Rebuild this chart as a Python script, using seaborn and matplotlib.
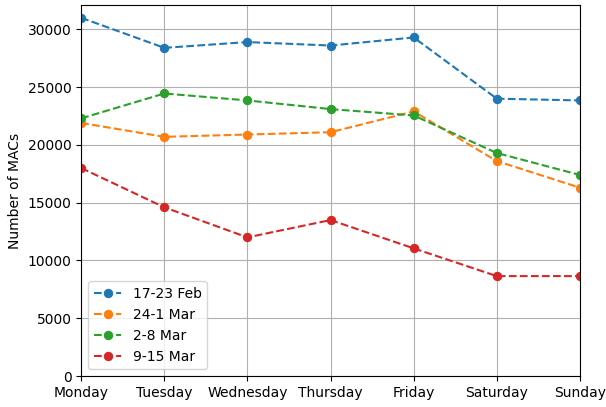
import pandas as pd
import matplotlib
matplotlib.use('Agg')
import matplotlib.pyplot as plt
import seaborn as sns

days = ['Monday', 'Tuesday', 'Wednesday', 'Thursday', 'Friday', 'Saturday', 'Sunday']
weeks = ['17-23 Feb', '24-1 Mar', '2-8 Mar', '9-15 Mar']
feb_17_23 = [31000, 28400, 28900, 28600, 29300, 24000, 23850]
feb_24_mar_1 = [21900, 20700, 20900, 21100, 22900, 18600, 16300]
mar_2_8 = [22300, 24450, 23850, 23100, 22550, 19300, 17400]
mar_9_15 = [18000, 14600, 12000, 13500, 11050, 8650, 8650]

series = [feb_17_23, feb_24_mar_1, mar_2_8, mar_9_15]
colors = sns.color_palette('tab10', 4)

fig, ax = plt.subplots(figsize=(6.06, 4.07), dpi=100)
for week, vals, c in zip(weeks, series, colors):
    df = pd.DataFrame({'day': days, 'macs': vals})
    sns.lineplot(data=df, x='day', y='macs', sort=False, ax=ax, color=c,
                 marker='o', linestyle='--', markeredgecolor=c, label=week)

ax.set_xlim(0, len(days) - 1)
ax.set_ylim(bottom=0)
ax.set_xlabel('')
ax.set_ylabel('Number of MACs')
ax.grid(True)
ax.legend(loc='lower left')
fig.subplots_adjust(left=0.134, right=0.957, bottom=0.076, top=0.988)
fig.savefig('out.png', dpi=100)
